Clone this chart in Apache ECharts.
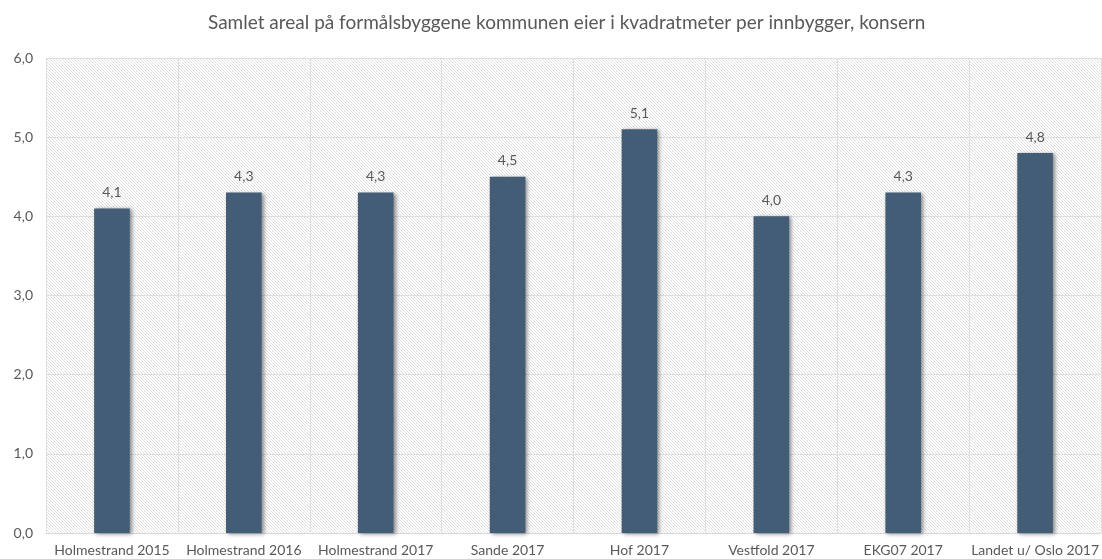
<!DOCTYPE html>
<html>
<head>
<meta charset="utf-8">
<script src="https://cdn.jsdelivr.net/npm/echarts@6/dist/echarts.min.js"></script>
<style>
  html, body { margin: 0; padding: 0; background: #fff; }
  #chart { width: 1102px; height: 559px; }
</style>
</head>
<body>
<div id="chart"></div>
<script>
const titleText = 'Samlet areal på formålsbyggene kommunen eier i kvadratmeter per innbygger, konsern';
const categories = ['Holmestrand 2015', 'Holmestrand 2016', 'Holmestrand 2017', 'Sande 2017', 'Hof 2017', 'Vestfold 2017', 'EKG07 2017', 'Landet u/ Oslo 2017'];
const values = [4.1, 4.3, 4.3, 4.5, 5.1, 4.0, 4.3, 4.8];
const yTicks = [0, 1, 2, 3, 4, 5, 6];

// Diagonal hatch used as plot-area fill
function hatchPattern() {
  const c = document.createElement('canvas');
  c.width = 6; c.height = 6;
  const g = c.getContext('2d');
  g.fillStyle = '#ffffff';
  g.fillRect(0, 0, 6, 6);
  g.strokeStyle = '#e0e0e0';
  g.lineWidth = 1;
  g.beginPath();
  for (let k = -6; k <= 12; k += 3) {
    g.moveTo(k, 0);
    g.lineTo(k + 6, 6);
  }
  g.stroke();
  return { image: c, repeat: 'repeat' };
}

const fmt = v => v.toFixed(1).replace('.', ',');
const font = 'Lato, "Open Sans", sans-serif';

const chart = echarts.init(document.getElementById('chart'), null, { renderer: 'canvas' });
chart.setOption({
  animation: false,
  backgroundColor: '#ffffff',
  title: {
    text: titleText,
    left: 203,
    top: 8,
    textStyle: { fontFamily: font, fontWeight: 'normal', fontSize: 19, color: '#595959' }
  },
  grid: {
    left: 46, right: 0, top: 58, bottom: 26,
    show: true,
    backgroundColor: hatchPattern(),
    borderWidth: 0
  },
  xAxis: {
    type: 'category',
    data: categories,
    boundaryGap: true,
    axisLine: { lineStyle: { color: '#d9d9d9' } },
    axisTick: { show: false },
    splitLine: { show: true, lineStyle: { color: '#dedede' } },
    axisLabel: { interval: 0, color: '#595959', fontFamily: font, fontSize: 14, margin: 10 }
  },
  yAxis: {
    type: 'value',
    min: yTicks[0],
    max: yTicks[yTicks.length - 1],
    interval: 1,
    axisLine: { show: false },
    axisTick: { show: false },
    splitLine: { lineStyle: { color: '#dedede' } },
    axisLabel: { formatter: fmt, color: '#595959', fontFamily: font, fontSize: 14, margin: 13 }
  },
  series: [{
    type: 'bar',
    data: values,
    barWidth: '27%',
    itemStyle: {
      color: '#445d76',
      shadowColor: 'rgba(0,0,0,0.45)',
      shadowBlur: 4,
      shadowOffsetX: 2,
      shadowOffsetY: 1
    },
    label: {
      show: true,
      position: 'top',
      distance: 9,
      formatter: p => fmt(p.value),
      color: '#595959',
      fontFamily: font,
      fontSize: 14
    }
  }]
});
</script>
</body>
</html>
